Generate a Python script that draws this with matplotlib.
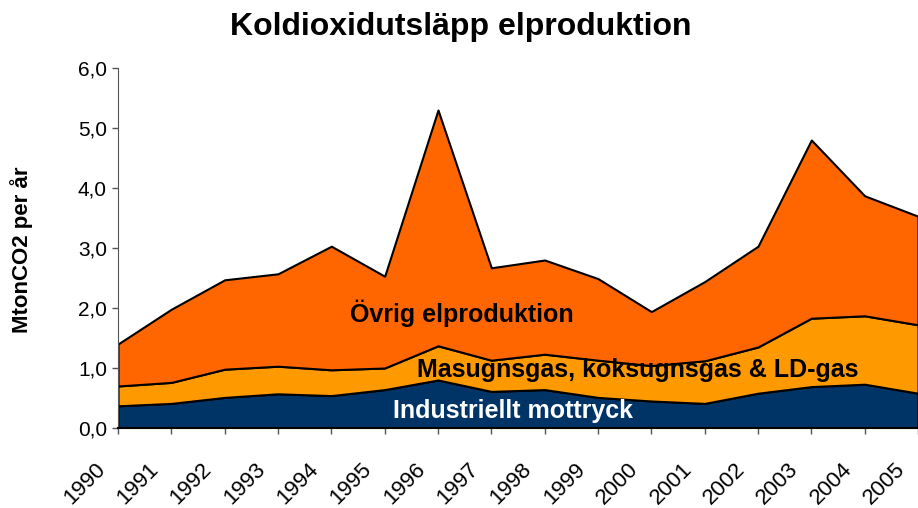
import matplotlib.pyplot as plt
import matplotlib.transforms as mtransforms
import numpy as np

plt.rcParams['font.family'] = ['Liberation Sans', 'DejaVu Sans']

years = [1990, 1991, 1992, 1993, 1994, 1995, 1996, 1997,
         1998, 1999, 2000, 2001, 2002, 2003, 2004, 2005]

# utsläpp per källa, Mton CO2 (staplade)
industriellt = [0.37, 0.41, 0.51, 0.57, 0.54, 0.64, 0.80, 0.61,
                0.64, 0.51, 0.45, 0.41, 0.58, 0.69, 0.73, 0.58]
masugnsgas = [0.33, 0.35, 0.47, 0.46, 0.43, 0.36, 0.57, 0.52,
              0.59, 0.62, 0.59, 0.71, 0.77, 1.14, 1.14, 1.14]
ovrig = [0.70, 1.22, 1.49, 1.54, 2.06, 1.53, 3.93, 1.54,
         1.57, 1.36, 0.90, 1.32, 1.68, 2.97, 2.00, 1.81]

serie_namn = ['Industriellt mottryck', 'Masugnsgas, koksugnsgas & LD-gas',
              'Övrig elproduktion']
farger = ['#003366', '#FF9900', '#FF6600']

fig = plt.figure(figsize=(9.18, 5.08), dpi=100)
ax = fig.add_axes([118/918, 1 - 428/508, 800/918, 360/508])

ax.stackplot(years, industriellt, masugnsgas, ovrig, colors=farger,
             edgecolor='black', linewidth=1.5, labels=serie_namn)

ax.set_xlim(1990, 2005)
ax.set_ylim(0, 6)
yt = np.arange(0, 6.1, 1)
ax.set_yticks(yt)
ax.set_yticklabels([f'{v:.1f}'.replace('.', ',') for v in yt], fontsize=15)
ax.set_xticks(years)
ax.set_xticklabels([str(y) for y in years], rotation=45, ha='right',
                   va='center', rotation_mode='anchor', fontsize=16)
ax.tick_params(axis='both', direction='out', length=4.5, width=1, color='#555555')
ax.tick_params(axis='x', pad=0)

# flytta årtalen snett ner till vänster om tickarna
offset = mtransforms.ScaledTranslation(-0.16, -0.32, fig.dpi_scale_trans)
for lbl in ax.get_xticklabels():
    lbl.set_transform(lbl.get_transform() + offset)

for s in ['top', 'right']:
    ax.spines[s].set_visible(False)
ax.spines['left'].set_color('#555555')
ax.spines['bottom'].set_color('black')
ax.spines['bottom'].set_linewidth(1.5)

fig.text(22/918, 1 - 250/508, 'MtonCO2 per år', rotation=90, ha='center',
         va='center', fontsize=16, fontweight='bold')
fig.text(461/918, 1 - 27/508, 'Koldioxidutsläpp elproduktion', ha='center',
         va='center', fontsize=23, fontweight='bold')

# etiketter inne i ytorna
ax.text(1996.45, 1.92, 'Övrig elproduktion', ha='center', va='center',
        fontsize=18, fontweight='bold', color='black')
ax.text(1999.75, 0.96, 'Masugnsgas, koksugnsgas & LD-gas', ha='center',
        va='center', fontsize=18, fontweight='bold', color='black')
ax.text(1997.4, 0.28, 'Industriellt mottryck', ha='center', va='center',
        fontsize=18, fontweight='bold', color='white')

fig.savefig('out.png', dpi=100)
